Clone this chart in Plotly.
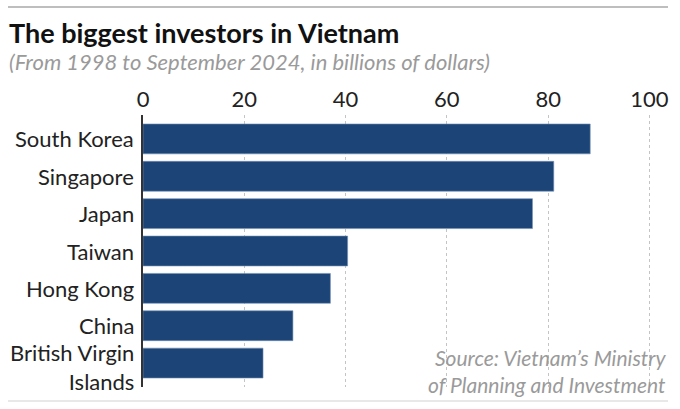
import plotly.graph_objects as go

# data (billions of USD, 1998 - Sep 2024)
countries = ["South Korea", "Singapore", "Japan", "Taiwan", "Hong Kong", "China",
             "British Virgin<br>Islands"]
investment = [88.3, 81.1, 76.9, 40.4, 37.0, 29.6, 23.7]
x_ticks = [0, 20, 40, 60, 80, 100]

title = "The biggest investors in Vietnam"
subtitle = "(From 1998 to September 2024, in billions of dollars)"
source = "Source: Vietnam’s Ministry<br>of Planning and Investment"

# page geometry (px)
W, H = 680, 409
ML, MR, MT, MB = 143, 28, 115, 22
PW = W - ML - MR
PH = H - MT - MB


def px_x(px):
    return (px - ML) / PW


def px_y(py):
    return (H - MB - py) / PH


fig = go.Figure(go.Bar(
    x=investment,
    y=countries,
    orientation="h",
    marker=dict(color="#1c4476", line=dict(color="#7090b5", width=0.6)),
    hoverinfo="x+y",
))

fig.update_layout(
    width=W, height=H,
    margin=dict(l=ML, r=MR, t=MT, b=MB, autoexpand=False),
    paper_bgcolor="white",
    plot_bgcolor="white",
    bargap=0.2,
    showlegend=False,
    font=dict(family="Lato, 'Open Sans', sans-serif", color="#222"),
)

fig.update_xaxes(
    side="top",
    range=[0, 100.5],
    tickvals=x_ticks,
    showgrid=True,
    gridcolor="#c4c4c4",
    griddash="dot",
    gridwidth=1,
    zeroline=False,
    showline=False,
    ticks="",
    automargin=False,
    ticklabelstandoff=3,
    tickfont=dict(family="Lato, sans-serif", size=22, color="#222"),
)

fig.update_yaxes(
    range=[6.64, -0.64],
    showgrid=False,
    zeroline=False,
    showline=True,
    linecolor="#333",
    linewidth=1.5,
    ticks="",
    automargin=False,
    showticklabels=False,
)

# category labels (wrapped names nudged down a little to clear the row above)
for name in countries:
    wrapped = "<br>" in name
    fig.add_annotation(text=name, xref="paper", yref="y",
                       x=px_x(136), y=name, xanchor="right", yanchor="middle",
                       yshift=-4 if wrapped else 0,
                       align="right", showarrow=False,
                       font=dict(family="Lato, sans-serif", size=22, color="#222"))

# title / subtitle / source
fig.add_annotation(text=title, xref="paper", yref="paper",
                   x=px_x(7), y=px_y(33), xanchor="left", yanchor="middle",
                   showarrow=False,
                   font=dict(family="Lato, sans-serif", size=27, weight="bold", color="#111"))
fig.add_annotation(text=subtitle, xref="paper", yref="paper",
                   x=px_x(7), y=px_y(61), xanchor="left", yanchor="middle",
                   showarrow=False,
                   font=dict(family="Lato, sans-serif", size=22, style="italic", color="#9a9a9a"))
fig.add_annotation(text=source, xref="paper", yref="paper",
                   x=px_x(668), y=px_y(371), xanchor="right", yanchor="middle",
                   align="right", showarrow=False,
                   font=dict(family="Lato, sans-serif", size=21, style="italic", color="#9a9a9a"))

# rules at top and bottom
fig.add_shape(type="line", xref="paper", yref="paper",
              x0=px_x(8), x1=px_x(668), y0=px_y(7), y1=px_y(7),
              line=dict(color="#a8a8a8", width=1.5))
fig.add_shape(type="line", xref="paper", yref="paper",
              x0=px_x(8), x1=px_x(668), y0=px_y(401), y1=px_y(401),
              line=dict(color="#e0e0e0", width=1.5))

# drop the browser's default 8px body margin so the figure sits at 0,0
fig.write_html("out.html", config={"displayModeBar": False},
               post_script="document.body.style.margin='0';")
